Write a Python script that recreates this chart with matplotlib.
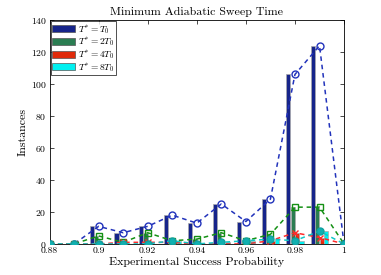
import matplotlib
matplotlib.use("Agg")
import matplotlib.pyplot as plt
import numpy as np
from matplotlib.patches import Patch

plt.rcParams['font.family'] = ['cmr10', 'DejaVu Serif']
plt.rcParams['mathtext.fontset'] = 'cm'
plt.rcParams['axes.formatter.use_mathtext'] = True

probs = [0.88, 0.89, 0.90, 0.91, 0.92, 0.93, 0.94, 0.95, 0.96, 0.97, 0.98, 0.99, 1.00]
t1 = [0, 0, 11, 7, 11, 18, 13, 25, 14, 28, 106, 124, 0]
t2 = [0, 0, 5, 1, 7, 2, 3, 7, 2, 6, 23, 23, 0]
t4 = [0, 0, 0, 1, 1, 1, 0, 0, 0, 2, 7, 4, 0]
t8 = [0, 0, 0, 0, 0, 2, 0, 1, 2, 3, 2, 8, 0]
labels = [r'$T^{*}=T_0$', r'$T^{*}=2T_0$', r'$T^{*}=4T_0$', r'$T^{*}=8T_0$']
xticks = [0.88, 0.90, 0.92, 0.94, 0.96, 0.98, 1.00]
xticklabels = ['0.88', '0.9', '0.92', '0.94', '0.96', '0.98', '1']

bar_colors = ['#16248a', '#2b7d52', '#e02a0a', '#00f0f0']
line_colors = ['#2233bb', '#149014', '#ff2a2a', '#10c8c8']
series = [t1, t2, t4, t8]

fig = plt.figure(figsize=(3.81, 2.75), dpi=100)
ax = fig.add_axes([0.130, 0.113, 0.773, 0.814])

x = np.array(probs)
offsets = [-0.0027, -0.0009, 0.0009, 0.0027]
w = 0.0017
for s, off, c in zip(series, offsets, bar_colors):
    ax.bar(x[:-1] + off, s[:-1], width=w, color=c, edgecolor='#aaaaaa', linewidth=0.5, zorder=2)

markers = ['o', 's', 'x', 'o']
for i, (s, c, m) in enumerate(zip(series, line_colors, markers)):
    if i == 3:
        ax.plot(x, s, linestyle='--', color=c, marker=m, markersize=5,
                markerfacecolor='#10b0b0', markeredgecolor='#10a0a0', linewidth=1.1, zorder=4, dashes=(3, 2.5))
    else:
        ax.plot(x, s, linestyle='--', color=c, marker=m, markersize=5,
                markerfacecolor='none', markeredgewidth=1.0, linewidth=1.1, zorder=3, dashes=(3, 2.5))

ax.set_xlim(0.88, 1.0)
ax.set_ylim(0, 140)
ax.set_xticks(xticks)
ax.set_xticklabels(xticklabels)
ax.set_yticks(range(0, 141, 20))
ax.tick_params(direction='in', top=True, right=True, labelsize=7, length=3, width=0.5, pad=2)
for sp in ax.spines.values():
    sp.set_linewidth(0.6)
ax.set_xlabel('Experimental Success Probability', fontsize=8.6, labelpad=1)
ax.set_ylabel('Instances', fontsize=8.6, labelpad=2)
ax.set_title('Minimum Adiabatic Sweep Time', fontsize=8.6, pad=4)

handles = [Patch(facecolor=c, edgecolor='#555555', linewidth=0.5) for c in bar_colors]
leg = ax.legend(handles, labels, loc='upper left', fontsize=6.8, frameon=True, fancybox=False,
                edgecolor='black', handlelength=2.4, handleheight=0.75, labelspacing=0.0,
                borderpad=0.15, handletextpad=0.3, borderaxespad=0.15)
leg.get_frame().set_linewidth(0.6)

fig.savefig('out.png', dpi=100)
